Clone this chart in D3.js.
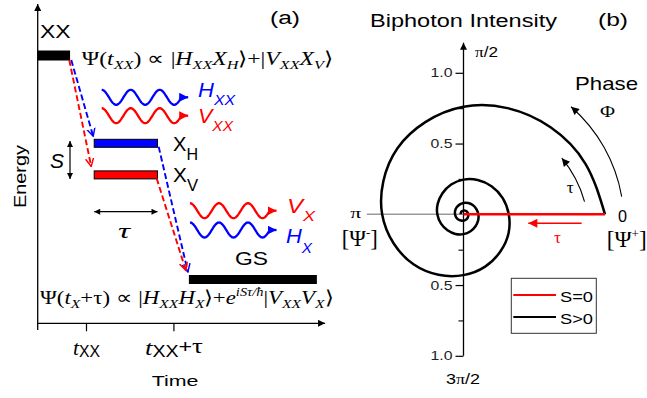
<!DOCTYPE html>
<html>
<head>
<meta charset="utf-8">
<script src="https://cdn.jsdelivr.net/npm/d3@7"></script>
<style>
  html, body { margin: 0; padding: 0; background: #fff; }
  svg { display: block; }
</style>
</head>
<body>
<div id="chart"></div>
<script>
// panel (a) - energy levels, time in units of t_XX
const levelNames = ['XX', 'X_H', 'X_V', 'GS'];
const levelEnergy = [10, 6.08, 4.67, 0];
const levelStart = [0, 1.17, 1.17, 3.13];
const levelEnd = [0.67, 2.48, 2.48, 5.78];
const levelColors = ['#000', '#0000ff', '#ff0000', '#000'];
const transitions = [[0, 1], [0, 2], [1, 3], [2, 3]];
const timeTicks = [1, 2.81];
const timeTickLabels = ['t_XX', 't_XX+τ'];

// panel (b) - biphoton intensity vs phase, radius read every sixteenth of a turn
const spiralR = [1.00, 0.933, 0.87, 0.812, 0.76, 0.705, 0.66, 0.613, 0.575, 0.535, 0.50, 0.463,
  0.43, 0.40, 0.37, 0.345, 0.32, 0.30, 0.28, 0.262, 0.245, 0.228, 0.21, 0.197, 0.185, 0.172,
  0.16, 0.15, 0.14, 0.13, 0.12, 0.112, 0.105, 0.098, 0.092, 0.086, 0.08, 0.074, 0.069, 0.064,
  0.06, 0.056, 0.052, 0.048, 0.045, 0.042, 0.039, 0.036, 0.034, 0.032, 0.03, 0.028, 0.026,
  0.024, 0.023, 0.021, 0.02];
const s0Phase = [0, 0];
const s0R = [1.0, 0];
const radialTicks = [0.5, 1.0];
const radialMinor = [0.25, 0.75];
const legendLabels = ['S=0', 'S>0'];
const legendColors = ['#ff0000', '#000'];

const SANS = '"Liberation Sans", Arial, sans-serif';
const SERIF = '"Liberation Serif", "Times New Roman", serif';
const BLUE = '#0000ff', RED = '#ff0000';

const svg = d3.select('#chart').append('svg').attr('width', 647).attr('height', 398);
const defs = svg.append('defs');

function arrowMarker(id, color, w, h, open) {
  defs.append('marker').attr('id', id)
    .attr('viewBox', '0 -5 10 10').attr('refX', open ? 9 : 10).attr('refY', 0)
    .attr('markerUnits', 'userSpaceOnUse')
    .attr('markerWidth', w).attr('markerHeight', h)
    .attr('orient', 'auto-start-reverse')
    .append('path')
    .attr('d', open ? 'M0,-4.5L9,0L0,4.5' : 'M0,-5L10,0L0,5Z')
    .attr('fill', open ? 'none' : color)
    .attr('stroke', open ? color : 'none')
    .attr('stroke-width', open ? 1.6 : 0);
}
arrowMarker('ax', '#000', 8, 7, false);
arrowMarker('dbl', '#000', 7, 6, false);
arrowMarker('headblue', BLUE, 9, 9, false);
arrowMarker('headred', RED, 9, 9, false);
arrowMarker('vblue', BLUE, 9, 10, true);
arrowMarker('vred', RED, 9, 10, true);
arrowMarker('thin', '#000', 9, 8, false);
arrowMarker('redtau', RED, 10, 9, false);

// text with sub/superscript parts, stretched to the measured width
function rich(g, x, y, size, width, parts, opt = {}) {
  const t = g.append('text').attr('x', x).attr('y', y)
    .attr('font-size', size).attr('fill', opt.fill || '#000')
    .attr('text-anchor', opt.anchor || 'start')
    .attr('font-family', opt.serif ? SERIF : SANS);
  if (opt.italic) t.attr('font-style', 'italic');
  if (width) t.attr('textLength', width).attr('lengthAdjust', 'spacingAndGlyphs');
  let prev = 0;
  (typeof parts === 'string' ? [{ t: parts }] : parts).forEach(p => {
    const off = p.o || 0;
    const ts = t.append('tspan').text(p.t).attr('dy', off - prev);
    prev = off;
    if (p.s) ts.attr('font-size', p.s);
    if (p.i !== undefined) ts.attr('font-style', p.i ? 'italic' : 'normal');
    if (p.f) ts.attr('font-family', p.f);
  });
  if (opt.rotate) t.attr('transform', `rotate(${opt.rotate},${x},${y})`);
  return t;
}

// ---------------- panel (a)
const pa = svg.append('g');
const x = d3.scaleLinear().domain([0, 6]).range([37.7, 37.7 + 6 * 48.3]);
const y = d3.scaleLinear().domain([0, 10]).range([279.5, 55.5]);

// axes
pa.append('line').attr('x1', x(0)).attr('x2', x(0)).attr('y1', 330).attr('y2', 4)
  .attr('stroke', '#000').attr('stroke-width', 1.3).attr('marker-end', 'url(#ax)');
pa.append('line').attr('x1', x(0) - 0.6).attr('x2', x(5.95)).attr('y1', 323.3).attr('y2', 323.3)
  .attr('stroke', '#000').attr('stroke-width', 1.3).attr('marker-end', 'url(#ax)');
const tAxis = pa.append('g').attr('transform', 'translate(0,323.3)')
  .call(d3.axisBottom(x).tickValues(timeTicks).tickSize(8).tickFormat(''));
tAxis.select('.domain').remove();
tAxis.selectAll('line').attr('stroke-width', 1.2);

timeTickLabels.forEach((lab, i) => {
  const m = lab.match(/^(\w)_(XX)(.*)$/);
  const parts = [{ t: m[1], i: 1, f: SERIF, s: 22 }, { t: m[2], s: 16, o: 2 }];
  if (m[3]) parts.push({ t: m[3].slice(0, 1), s: 19, o: -2.5 }, { t: m[3].slice(1), f: SERIF, s: 22, o: -2.5 });
  rich(pa, x(timeTicks[i]) + 0.5, 355, 20, i ? 58 : 27, parts, { anchor: 'middle' });
});
rich(pa, 175, 386, 15.5, 46.7, 'Time', { anchor: 'middle' });
rich(pa, 26, 176.5, 17, 63, 'Energy', { anchor: 'middle', rotate: -90 });

// energy levels
const barH = [10, 8, 8, 9];
levelNames.forEach((n, i) => {
  pa.append('rect')
    .attr('x', x(levelStart[i])).attr('width', x(levelEnd[i]) - x(levelStart[i]))
    .attr('y', y(levelEnergy[i]) - barH[i] / 2).attr('height', barH[i])
    .attr('fill', levelColors[i])
    .attr('stroke', '#000').attr('stroke-width', levelColors[i] === '#000' ? 0 : 1);
});

// decay paths (dashed)
transitions.forEach(([f, t]) => {
  const c = levelColors[f === 0 ? t : f];
  const isRed = c === RED;
  const x1 = x(levelEnd[f]) + (isRed ? -0.8 : 1.2);
  const y1 = y(levelEnergy[f]) + barH[f] / 2 - 0.5;
  const x2 = x(levelStart[t]) - (isRed ? 3 : 1);
  const y2 = y(levelEnergy[t]) - barH[t] / 2 - (isRed ? 4.5 : 3);
  pa.append('line').attr('x1', x1).attr('y1', y1).attr('x2', x2).attr('y2', y2)
    .attr('stroke', c).attr('stroke-width', 1.9).attr('stroke-dasharray', '6,3')
    .attr('marker-end', `url(#v${isRed ? 'red' : 'blue'})`);
});

// level labels
rich(pa, 40, 38.3, 18, 30.7, 'XX');
[1, 2].forEach(i => {
  const m = levelNames[i].split('_');
  const yb = y(levelEnergy[i]) + 7.5;
  rich(pa, 173, yb, 20, 25, [{ t: m[0] }, { t: m[1], s: 16, o: 9 }]);
});
rich(pa, 235, 265, 17.5, 33, 'GS');

// splitting S and delay tau
pa.append('line').attr('x1', 70).attr('x2', 70).attr('y1', 141).attr('y2', 179)
  .attr('stroke', '#000').attr('stroke-width', 1.2)
  .attr('marker-start', 'url(#dbl)').attr('marker-end', 'url(#dbl)');
rich(pa, 50, 168, 21, 14, 'S', { italic: true });
pa.append('line').attr('x1', x(levelStart[1])).attr('x2', x(levelEnd[1])).attr('y1', 211.7).attr('y2', 211.7)
  .attr('stroke', '#000').attr('stroke-width', 1.2)
  .attr('marker-start', 'url(#dbl)').attr('marker-end', 'url(#dbl)');
rich(pa, 118, 238, 20, 12, 'τ', { serif: true, italic: true });

// photons
function photon(x0, cy, color) {
  const amp = 7.5, period = 29, n = 2.75;
  const pts = d3.range(0, n * period + 0.01, 0.5)
    .map(d => [x0 + d, cy - amp * Math.cos(2 * Math.PI * d / period)]);
  pa.append('path').attr('d', d3.line()(pts)).attr('fill', 'none')
    .attr('stroke', color).attr('stroke-width', 2.3);
  pa.append('line').attr('x1', x0 + n * period - 0.5).attr('x2', x0 + 86.5).attr('y1', cy).attr('y2', cy)
    .attr('stroke', color).attr('stroke-width', 2.3)
    .attr('marker-end', `url(#head${color === RED ? 'red' : 'blue'})`);
}
photon(101.7, 97.3, BLUE);
photon(101.7, 115.7, RED);
photon(190, 210.7, RED);
photon(190, 230, BLUE);
rich(pa, 198, 96.7, 19.5, 37, [{ t: 'H' }, { t: 'XX', s: 14, o: 8.3 }], { italic: true, fill: BLUE });
rich(pa, 198, 123, 19.5, 35, [{ t: 'V' }, { t: 'XX', s: 14, o: 8 }], { italic: true, fill: RED });
rich(pa, 287, 213, 20, 28, [{ t: 'V' }, { t: 'X', s: 15, o: 8 }], { italic: true, fill: RED });
rich(pa, 286, 243.3, 20, 26, [{ t: 'H' }, { t: 'X', s: 14, o: 9.7 }], { italic: true, fill: BLUE });

// states
const sub = (t, o = 4) => ({ t, i: 1, s: 13, o });
rich(pa, 81.7, 65, 19, 251, [
  { t: 'Ψ(' }, { t: 't', i: 1 }, sub('XX'), { t: ') ∝ |', o: 0 }, { t: 'H', i: 1 }, sub('XX'),
  { t: 'X', i: 1, o: 0 }, sub('H'), { t: '⟩+|', o: 0 }, { t: 'V', i: 1 }, sub('XX'),
  { t: 'X', i: 1, o: 0 }, sub('V'), { t: '⟩', o: 0 }
], { serif: true });
rich(pa, 40, 304, 19, 293, [
  { t: 'Ψ(' }, { t: 't', i: 1 }, sub('X'), { t: '+τ) ∝ |', o: 0 }, { t: 'H', i: 1 }, sub('XX'),
  { t: 'H', i: 1, o: 0 }, sub('X'), { t: '⟩+', o: 0 }, { t: 'e', i: 1 },
  { t: 'iSτ/ħ', i: 1, s: 12, o: -8 }, { t: '|', o: 0 }, { t: 'V', i: 1 }, sub('XX'),
  { t: 'V', i: 1, o: 0 }, sub('X'), { t: '⟩', o: 0 }
], { serif: true });
rich(pa, 270, 23.5, 18, 30, '(a)');

// ---------------- panel (b)
const cx = 463.5, cy = 214.3;
const R = d3.scaleLinear().domain([0, 1]).range([0, 141.5]);
const pb = svg.append('g').attr('transform', `translate(${cx},${cy})`);
const polar = (ph, r) => [R(r) * Math.cos(ph), -R(r) * Math.sin(ph)];

// phase pi reference line and radial axis
pb.append('line').attr('x1', polar(Math.PI, 0.683)[0]).attr('x2', 0).attr('y1', 0).attr('y2', 0)
  .attr('stroke', '#9a9a9a').attr('stroke-width', 1.4);
pb.append('line').attr('x1', 0).attr('x2', 0).attr('y1', R(1)).attr('y2', -R(1.212))
  .attr('stroke', '#000').attr('stroke-width', 1.3).attr('marker-end', 'url(#ax)');
[[0, -R(1)], [0, R(1)]].forEach(rng => {
  const s = d3.scaleLinear().domain([0, 1]).range(rng);
  const g1 = pb.append('g').call(d3.axisLeft(s).tickValues(radialTicks).tickSize(8).tickPadding(3).tickFormat(d3.format('.1f')));
  g1.select('.domain').remove();
  g1.selectAll('line').attr('stroke-width', 1.2);
  g1.selectAll('text').attr('font-family', SANS).attr('font-size', 13).attr('fill', '#222')
    .attr('textLength', 22).attr('lengthAdjust', 'spacingAndGlyphs');
  const g2 = pb.append('g').call(d3.axisLeft(s).tickValues(radialMinor).tickSize(5).tickFormat(''));
  g2.select('.domain').remove();
  g2.selectAll('line').attr('stroke-width', 1.1);
});

// curves
const radial = d3.lineRadial()
  .angle(d => Math.PI / 2 - d[0])
  .radius(d => R(d[1]));
const spiral = spiralR.map((r, k) => [k * Math.PI / 8, r]);
pb.append('path').attr('d', radial.curve(d3.curveNatural)(spiral))
  .attr('fill', 'none').attr('stroke', '#000').attr('stroke-width', 2.5);
pb.append('path').attr('d', radial.curve(d3.curveLinear)(s0R.map((r, i) => [s0Phase[i], r])))
  .attr('fill', 'none').attr('stroke', RED).attr('stroke-width', 2.6);

// phase arrows
function arcArrow(a0, r0, a1, r1, rad, marker, color) {
  const p0 = polar(a0 * Math.PI / 180, r0), p1 = polar(a1 * Math.PI / 180, r1);
  pb.append('path').attr('d', `M${p0[0]},${p0[1]}A${rad},${rad} 0 0 0 ${p1[0]},${p1[1]}`)
    .attr('fill', 'none').attr('stroke', color).attr('stroke-width', 1.1)
    .attr('marker-end', `url(#${marker})`);
}
arcArrow(6.4, 1.125, 45, 1.075, 155, 'thin', '#000');
arcArrow(6, 0.86, 29.7, 0.80, 118, 'thin', '#000');
pb.append('line').attr('x1', R(0.835)).attr('x2', R(0.458)).attr('y1', 9).attr('y2', 9)
  .attr('stroke', RED).attr('stroke-width', 1.5).attr('marker-end', 'url(#redtau)');

// labels
rich(svg, 370, 26.7, 18, 187, 'Biphoton Intensity');
rich(svg, 598, 26, 18, 30, '(b)');
rich(svg, 575, 90, 19, 63, 'Phase');
rich(svg, 600, 117, 17, 15, 'Φ', { serif: true });
rich(svg, 566.7, 193, 17, 7, 'τ', { serif: true });
rich(svg, 554, 243, 17, 7, 'τ', { serif: true, fill: RED });
rich(svg, 475, 56.5, 14, 23, [{ t: 'π', f: SERIF }, { t: '/2' }]);
rich(svg, 463, 384, 15.5, 34, [{ t: '3' }, { t: 'π', f: SERIF }, { t: '/2' }], { anchor: 'middle' });
rich(svg, 355.7, 218, 15, 11, 'π', { serif: true, anchor: 'middle' });
rich(svg, 622.5, 221.7, 16.5, 9, '0', { anchor: 'middle' });
rich(svg, 341.7, 245.5, 23, 36, [{ t: '[Ψ' }, { t: '-', s: 13, o: -9 }, { t: ']', o: 0 }], { serif: true });
rich(svg, 606.7, 247, 23, 40, [{ t: '[Ψ' }, { t: '+', s: 13, o: -9 }, { t: ']', o: 0 }], { serif: true });

// legend
const lg = svg.append('g').attr('transform', 'translate(511.3,278.3)');
lg.append('rect').attr('width', 85).attr('height', 55).attr('fill', '#fff')
  .attr('stroke', '#333').attr('stroke-width', 1);
legendLabels.forEach((lab, i) => {
  const yy = 16.7 + i * 22;
  lg.append('line').attr('x1', 2).attr('x2', 44.7).attr('y1', yy).attr('y2', yy)
    .attr('stroke', legendColors[i]).attr('stroke-width', 2);
  rich(lg, 48.7, yy + 6.7, 15, 33, lab);
});
</script>
</body>
</html>
